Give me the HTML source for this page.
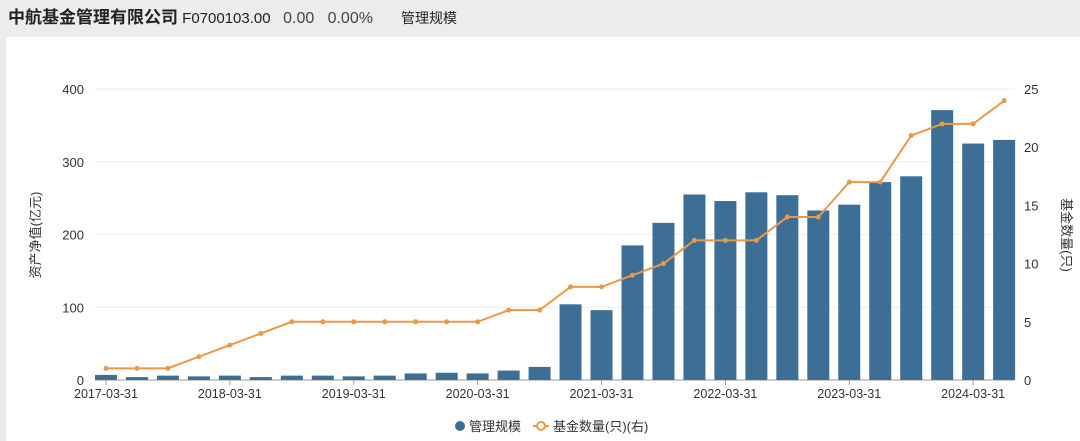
<!DOCTYPE html>
<html><head><meta charset="utf-8"><style>
html,body{margin:0;padding:0;width:1080px;height:441px;overflow:hidden;background:#ececec;font-family:"Liberation Sans","Noto Sans CJK SC",sans-serif;}
#hdr{position:absolute;left:8px;top:3px;height:30px;line-height:30px;font-size:15px;color:#222;white-space:nowrap}
#panel{position:absolute;left:6px;top:37px;width:1074px;height:404px;background:#fff}
svg{position:absolute;left:0;top:0}
</style></head><body>
<div id="hdr"><b style="font-size:17px">中航基金管理有限公司</b> <span>F0700103.00</span>&nbsp;&nbsp; <span style="font-size:16px;color:#444">0.00&nbsp;&nbsp; 0.00%</span><span style="margin-left:28px;font-size:14px">管理规模</span></div>
<div id="panel"></div>
<svg id="c" width="1080" height="441"></svg>
<script>
const categories=["2017-03-31","2017-06-30","2017-09-30","2017-12-31","2018-03-31","2018-06-30","2018-09-30","2018-12-31","2019-03-31","2019-06-30","2019-09-30","2019-12-31","2020-03-31","2020-06-30","2020-09-30","2020-12-31","2021-03-31","2021-06-30","2021-09-30","2021-12-31","2022-03-31","2022-06-30","2022-09-30","2022-12-31","2023-03-31","2023-06-30","2023-09-30","2023-12-31","2024-03-31","2024-06-30"];
const aum=[7,4,6,5,6,4,6,6,5,6,9,10,9,13,18,104,96,185,216,255,246,258,254,233,241,272,280,371,325,330];
const fundCount=[1,1,1,2,3,4,5,5,5,5,5,5,5,6,6,8,8,9,10,12,12,12,14,14,17,17,21,22,22,24];
const leftTicks=[0,100,200,300,400];
const rightTicks=[0,5,10,15,20,25];
const NS="http://www.w3.org/2000/svg",svg=document.getElementById('c');
const x0=106,step=30.97,yb=380,yt=89;
const X=i=>x0+i*step;
const YL=v=>yb-(v/400)*(yb-yt);
const YR=v=>yb-(v/25)*(yb-yt);
function mk(t,a,txt){const e=document.createElementNS(NS,t);for(const k in a)e.setAttribute(k,a[k]);if(txt!==undefined)e.textContent=txt;svg.appendChild(e);return e;}
leftTicks.forEach(v=>{
 const g=mk('line',{x1:95,x2:1015,y1:YL(v),y2:YL(v),stroke:v?'#eeeeee':'#999','stroke-width':1});
 
 
 const t=mk('text',{x:84,y:YL(v)+5,'text-anchor':'end','font-size':13,fill:'#333'},v);
 
 
});
rightTicks.forEach(v=>{
 const t=mk('text',{x:1024,y:YR(v)+5,'font-size':13,fill:'#333'},v);
 
 
});
aum.forEach((v,i)=>{
 const r=mk('rect',{x:X(i)-11,y:YL(v),width:22,height:yb-YL(v),fill:'#3d6e96'});
 
 
});
categories.forEach((c,i)=>{
 if(i%4)return;
 mk('line',{x1:X(i),x2:X(i),y1:yb,y2:yb+5,stroke:'#999'});
 const t=mk('text',{x:X(i),y:398,'text-anchor':'middle','font-size':12.5,fill:'#333'},c);
 
 
});
const pl=mk('polyline',{points:fundCount.map((v,i)=>X(i)+','+YR(v)).join(' '),fill:'none',stroke:'#e8994a','stroke-width':2});


fundCount.forEach((v,i)=>{
 const p=mk('circle',{cx:X(i),cy:YR(v),r:2.5,fill:'#e8994a'});
 
 
});
const yl=mk('text',{x:40,y:235,'text-anchor':'middle','font-size':13,fill:'#333',transform:'rotate(-90 40 235)'},'资产净值(亿元)');


const yr=mk('text',{x:1062,y:235,'text-anchor':'middle','font-size':13,fill:'#333',transform:'rotate(90 1062 235)'},'基金数量(只)');


const l1=mk('circle',{cx:460,cy:426,r:5,fill:'#3d6e96'});


const lt1=mk('text',{x:469,y:431,'font-size':13,fill:'#333'},'管理规模');


const l2=mk('line',{x1:533,x2:549,y1:426,y2:426,stroke:'#e8994a','stroke-width':2});


mk('circle',{cx:541,cy:426,r:4,fill:'#fff',stroke:'#e8994a','stroke-width':2});
const lt2=mk('text',{x:553,y:431,'font-size':13,fill:'#333'},'基金数量(只)(右)');


</script>
</body></html>
